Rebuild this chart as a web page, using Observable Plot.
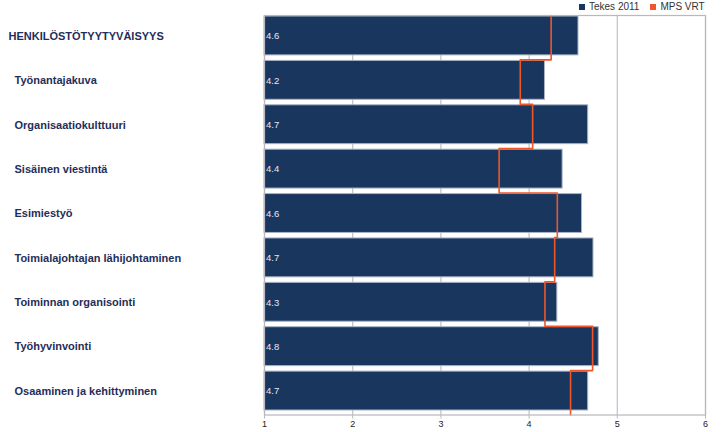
<!DOCTYPE html>
<html>
<head>
<meta charset="utf-8">
<script src="https://cdn.jsdelivr.net/npm/d3@7"></script>
<script src="https://cdn.jsdelivr.net/npm/@observablehq/plot@0.6"></script>
<style>
  html, body { margin: 0; padding: 0; background: #fff; }
  #wrap { position: relative; width: 721px; height: 432px; font-family: "Liberation Sans", Arial, sans-serif; }
  #legend { position: absolute; top: 1px; left: 579px; font-size: 10px; color: #333; display: flex; align-items: center; white-space: nowrap; }
  .sw { display: inline-block; width: 6px; height: 6px; margin-right: 4px; }
  .item { display: flex; align-items: center; margin-right: 11px; }
  svg { display: block; }
</style>
</head>
<body>
<div id="wrap"><div id="legend"></div></div>
<script>
const categories = [
  "HENKILÖSTÖTYYTYVÄISYYS",
  "Työnantajakuva",
  "Organisaatiokulttuuri",
  "Sisäinen viestintä",
  "Esimiestyö",
  "Toimialajohtajan lähijohtaminen",
  "Toiminnan organisointi",
  "Työhyvinvointi",
  "Osaaminen ja kehittyminen"
];
const tekes2011 = [4.56, 4.18, 4.67, 4.38, 4.60, 4.73, 4.32, 4.79, 4.67];
const mpsVrt    = [4.25, 3.90, 4.04, 3.66, 4.32, 4.29, 4.18, 4.72, 4.47];
const xTicks = [1, 2, 3, 4, 5, 6];
const seriesNames = ["Tekes 2011", "MPS VRT"];
const seriesColors = ["#19365f", "#f0562a"];

const rows = categories.map((c, i) => ({cat: c, i, tekes: tekes2011[i], mps: mpsVrt[i]}));
const stepPts = rows.flatMap(r => [{x: r.mps, y: r.i - 0.5}, {x: r.mps, y: r.i + 0.5}]);

const labelColor = "#1f2e5a";

const chart = Plot.plot({
  width: 721,
  height: 432,
  marginLeft: 264,
  marginRight: 16,
  marginTop: 15,
  marginBottom: 17.5,
  style: {fontFamily: "Liberation Sans, Arial, sans-serif", background: "#fff"},
  x: {domain: [1, 6]},
  y: {domain: [-0.5, 8.5], reverse: true, axis: null},
  marks: [
    Plot.ruleX(xTicks, {stroke: "#c0c0c6", strokeWidth: 1.2}),
    Plot.rectX(rows, {
      x1: 1, x2: "tekes",
      y1: d => d.i - 0.5, y2: d => d.i + 0.5,
      insetTop: 1, insetBottom: 4.5,
      fill: seriesColors[0], stroke: "#aab3c2", strokeWidth: 1
    }),
    Plot.line(stepPts, {x: "x", y: "y", stroke: seriesColors[1], strokeWidth: 1.6}),
    Plot.text(rows, {
      x: 1, y: "i", text: d => d3.format(".1f")(d.tekes),
      textAnchor: "start", dx: 1.5, dy: -1.5, fill: "#e6e8ee", fontSize: 9.5
    }),
    Plot.text(rows.slice(0, 1), {
      x: 1, y: "i", text: "cat", textAnchor: "start", dx: -256, dy: -1.5,
      fill: labelColor, fontSize: 11, fontWeight: "bold"
    }),
    Plot.text(rows.slice(1), {
      x: 1, y: "i", text: "cat", textAnchor: "start", dx: -250, dy: -1.5,
      fill: labelColor, fontSize: 11, fontWeight: "bold"
    }),
    Plot.frame({stroke: "#b8b8be", strokeWidth: 1.2}),
    Plot.axisX({ticks: xTicks, tickSize: 4, tickPadding: 2, fontSize: 9, tickFormat: d => String(d), stroke: "#b8b8be", color: "#222"})
  ]
});
document.getElementById("wrap").appendChild(chart);

const legend = document.getElementById("legend");
seriesNames.forEach((n, k) => {
  const it = document.createElement("span");
  it.className = "item";
  it.innerHTML = `<span class="sw" style="background:${seriesColors[k]}"></span>${n}`;
  legend.appendChild(it);
});
</script>
</body>
</html>
